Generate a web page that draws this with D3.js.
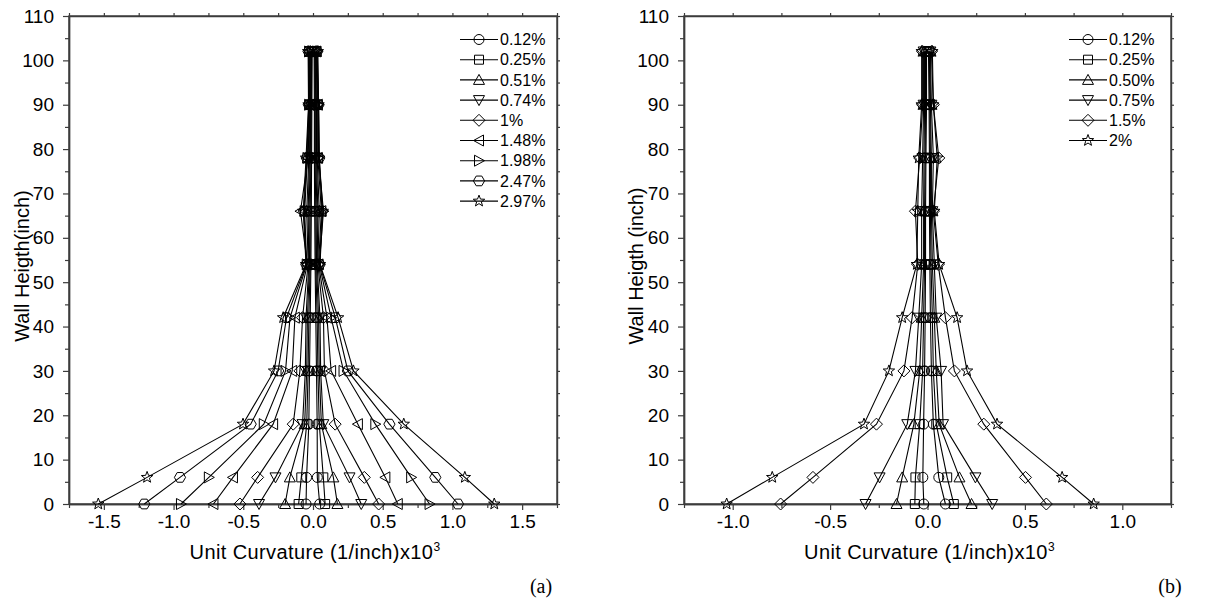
<!DOCTYPE html>
<html>
<head>
<meta charset="utf-8">
<script src="https://cdn.jsdelivr.net/npm/d3@7"></script>
<style>
  body { margin: 0; background: #fff; }
  svg { display: block; }
  text { font-family: "Liberation Sans", Arial, sans-serif; fill: #000; }
</style>
</head>
<body>
<svg id="chart" width="1218" height="604"></svg>
<script>
// wall heights where curvature was measured (inch)
const heights = [0, 6, 18, 30, 42, 54, 66, 78, 90, 102];

// ---- panel (a) ----
const driftsA = ['0.12%', '0.25%', '0.51%', '0.74%', '1%', '1.48%', '1.98%', '2.47%', '2.97%'];
const markersA = ['circle', 'square', 'triUp', 'triDown', 'diamond', 'triLeft', 'triRight', 'hexagon', 'star'];
// negative (left) branch, one row per drift, one value per height
const negA = [
  [-0.05, -0.046, -0.03, -0.025, -0.02, -0.015, -0.012, -0.01, -0.008, -0.006],
  [-0.103, -0.084, -0.045, -0.035, -0.03, -0.02, -0.02, -0.015, -0.012, -0.01],
  [-0.2, -0.166, -0.06, -0.045, -0.04, -0.025, -0.028, -0.02, -0.015, -0.013],
  [-0.387, -0.269, -0.075, -0.055, -0.05, -0.03, -0.035, -0.025, -0.018, -0.016],
  [-0.524, -0.397, -0.142, -0.094, -0.075, -0.035, -0.045, -0.03, -0.022, -0.02],
  [-0.714, -0.574, -0.286, -0.149, -0.13, -0.04, -0.09, -0.035, -0.025, -0.024],
  [-0.947, -0.747, -0.353, -0.197, -0.165, -0.045, -0.06, -0.04, -0.028, -0.028],
  [-1.21, -0.954, -0.447, -0.25, -0.19, -0.048, -0.065, -0.045, -0.03, -0.032],
  [-1.54, -1.19, -0.502, -0.279, -0.214, -0.05, -0.07, -0.05, -0.032, -0.035]
];
// positive (right) branch
const posA = [
  [0.048, 0.031, 0.03, 0.025, 0.02, 0.015, 0.012, 0.01, 0.01, 0.008],
  [0.087, 0.074, 0.045, 0.035, 0.03, 0.02, 0.02, 0.015, 0.015, 0.012],
  [0.175, 0.146, 0.06, 0.045, 0.04, 0.025, 0.028, 0.02, 0.02, 0.015],
  [0.346, 0.262, 0.074, 0.055, 0.05, 0.03, 0.035, 0.025, 0.025, 0.018],
  [0.471, 0.368, 0.159, 0.082, 0.075, 0.035, 0.045, 0.03, 0.03, 0.022],
  [0.608, 0.519, 0.322, 0.13, 0.1, 0.04, 0.06, 0.035, 0.035, 0.025],
  [0.836, 0.704, 0.447, 0.219, 0.13, 0.045, 0.075, 0.04, 0.038, 0.028],
  [1.04, 0.877, 0.548, 0.25, 0.16, 0.048, 0.065, 0.045, 0.04, 0.03],
  [1.30, 1.089, 0.651, 0.29, 0.18, 0.05, 0.07, 0.045, 0.04, 0.035]
];
const xTicksA = [-1.5, -1.0, -0.5, 0.0, 0.5, 1.0, 1.5];

// ---- panel (b) ----
const driftsB = ['0.12%', '0.25%', '0.50%', '0.75%', '1.5%', '2%'];
const markersB = ['circle', 'square', 'triUp', 'triDown', 'diamond', 'star'];
const negB = [
  [-0.019, -0.024, -0.02, -0.015, -0.012, -0.01, -0.01, -0.008, -0.005, -0.005],
  [-0.065, -0.062, -0.04, -0.025, -0.02, -0.015, -0.015, -0.012, -0.01, -0.01],
  [-0.159, -0.13, -0.07, -0.04, -0.03, -0.02, -0.02, -0.018, -0.015, -0.015],
  [-0.318, -0.246, -0.104, -0.062, -0.045, -0.03, -0.03, -0.025, -0.02, -0.02],
  [-0.754, -0.588, -0.262, -0.121, -0.079, -0.05, -0.062, -0.04, -0.025, -0.025],
  [-1.031, -0.797, -0.326, -0.198, -0.13, -0.055, -0.05, -0.045, -0.03, -0.03]
];
const posB = [
  [0.092, 0.058, 0.03, 0.02, 0.015, 0.012, 0.01, 0.01, 0.008, 0.005],
  [0.135, 0.101, 0.045, 0.03, 0.025, 0.018, 0.015, 0.015, 0.012, 0.01],
  [0.226, 0.164, 0.06, 0.045, 0.035, 0.025, 0.02, 0.02, 0.015, 0.012],
  [0.332, 0.246, 0.08, 0.07, 0.045, 0.035, 0.025, 0.03, 0.02, 0.015],
  [0.61, 0.503, 0.289, 0.138, 0.092, 0.055, 0.03, 0.058, 0.03, 0.02],
  [0.853, 0.691, 0.357, 0.203, 0.152, 0.06, 0.035, 0.05, 0.03, 0.025]
];
const xTicksB = [-1.0, -0.5, 0.0, 0.5, 1.0];

const yTicks = [0, 10, 20, 30, 40, 50, 60, 70, 80, 90, 100, 110];

const svg = d3.select('#chart');
const AXIS_COLOR = '#3c3c3c';

function polygon(pts) {
  return 'M' + pts.map(p => p[0].toFixed(2) + ',' + p[1].toFixed(2)).join('L') + 'Z';
}

function markerPath(type) {
  switch (type) {
    case 'circle': return 'M-5,0a5,5 0 1,0 10,0a5,5 0 1,0 -10,0Z';
    case 'square': return 'M-4.5,-4.5H4.5V4.5H-4.5Z';
    case 'triUp': return polygon([[0, -5.5], [5.5, 4.5], [-5.5, 4.5]]);
    case 'triDown': return polygon([[0, 5.5], [5.5, -4.5], [-5.5, -4.5]]);
    case 'triLeft': return polygon([[-5.5, 0], [4.5, -5.5], [4.5, 5.5]]);
    case 'triRight': return polygon([[5.5, 0], [-4.5, -5.5], [-4.5, 5.5]]);
    case 'diamond': return polygon([[0, -6], [6, 0], [0, 6], [-6, 0]]);
    case 'hexagon': return polygon(d3.range(6).map(i => [5.6 * Math.cos(i * Math.PI / 3), 5.6 * Math.sin(i * Math.PI / 3)]));
    case 'star': return polygon(d3.range(10).map(i => {
      const r = i % 2 ? 2.5 : 6;
      const a = -Math.PI / 2 + i * Math.PI / 5;
      return [r * Math.cos(a), r * Math.sin(a)];
    }));
  }
}

function drawPanel(opts) {
  const { left, right, top, bottom, xDomain, xTicks, drifts, markers, neg, pos,
          yTitle, yTitleX, legendX, letter, letterX } = opts;

  const x = d3.scaleLinear().domain(xDomain).range([left, right]);
  const y = d3.scaleLinear().domain([0, 110]).range([bottom, top]);
  const g = svg.append('g');

  const xMinor = d3.range(xDomain[0], xDomain[1] + 0.001, 0.25).filter(v => !xTicks.some(t => Math.abs(t - v) < 1e-6));
  const yMinor = d3.range(5, 110, 10);

  // frame
  g.append('rect')
    .attr('x', left).attr('y', top).attr('width', right - left).attr('height', bottom - top)
    .attr('fill', 'none').attr('stroke', AXIS_COLOR).attr('stroke-width', 1.4);

  // bottom axis
  g.append('g').attr('transform', `translate(0,${bottom})`)
    .call(d3.axisBottom(x).tickValues(xTicks).tickSize(6).tickSizeOuter(0).tickPadding(5)
      .tickFormat(d => d.toFixed(1)));
  g.append('g').attr('transform', `translate(0,${bottom})`)
    .call(d3.axisBottom(x).tickValues(xMinor).tickSize(4).tickSizeOuter(0).tickFormat(''));

  // left axis
  g.append('g').attr('transform', `translate(${left},0)`)
    .call(d3.axisLeft(y).tickValues(yTicks).tickSize(6).tickSizeOuter(0).tickPadding(9));
  g.append('g').attr('transform', `translate(${left},0)`)
    .call(d3.axisLeft(y).tickValues(yMinor).tickSize(4).tickSizeOuter(0).tickFormat(''));

  // top & right small ticks
  g.append('g').attr('transform', `translate(0,${top})`)
    .call(d3.axisTop(x).tickValues(xTicks.concat(xMinor)).tickSize(3).tickSizeOuter(0).tickFormat(''));
  g.append('g').attr('transform', `translate(${right},0)`)
    .call(d3.axisRight(y).tickValues(yTicks.concat(yMinor)).tickSize(3).tickSizeOuter(0).tickFormat(''));

  g.selectAll('.domain').attr('stroke', AXIS_COLOR).attr('stroke-width', 1.4);
  g.selectAll('.tick line').attr('stroke', AXIS_COLOR).attr('stroke-width', 1.2);
  g.selectAll('.tick text').style('font-size', '19px').attr('fill', '#000');

  // axis titles
  const xt = g.append('text')
    .attr('x', (left + right) / 2 + 2).attr('y', 559)
    .attr('text-anchor', 'middle').style('font-size', '20px').style('letter-spacing', '0.4px');
  xt.append('tspan').text('Unit Curvature (1/inch)x10');
  xt.append('tspan').text('3').attr('dy', -8).style('font-size', '12px');

  g.append('text')
    .attr('transform', `translate(${yTitleX},${(top + bottom) / 2 + 6}) rotate(-90)`)
    .attr('text-anchor', 'middle').attr('dy', '0.35em')
    .style('font-size', '20px')
    .text(yTitle);

  // curves
  const line = d3.line().x(d => x(d[0])).y(d => y(d[1]));
  const plot = g.append('g');
  drifts.forEach((name, i) => {
    [neg[i], pos[i]].forEach(branch => {
      const pts = branch.map((v, k) => [v, heights[k]]);
      plot.append('path').attr('d', line(pts))
        .attr('fill', 'none').attr('stroke', '#000').attr('stroke-width', 1.1);
      plot.selectAll(null).data(pts).enter().append('path')
        .attr('d', markerPath(markers[i]))
        .attr('transform', d => `translate(${x(d[0])},${y(d[1])})`)
        .attr('fill', 'none').attr('stroke', '#000').attr('stroke-width', 1);
    });
  });

  // legend
  const lg = g.append('g');
  drifts.forEach((name, i) => {
    const ly = 39.5 + i * 20.2;
    lg.append('line').attr('x1', legendX).attr('x2', legendX + 38).attr('y1', ly).attr('y2', ly)
      .attr('stroke', '#000').attr('stroke-width', 1.1);
    lg.append('path').attr('d', markerPath(markers[i]))
      .attr('transform', `translate(${legendX + 19},${ly})`)
      .attr('fill', 'none').attr('stroke', '#000').attr('stroke-width', 1);
    lg.append('text').attr('x', legendX + 40).attr('y', ly).attr('dy', '0.36em')
      .style('font-size', '16px').text(name);
  });

  // panel letter
  g.append('text').attr('x', letterX).attr('y', 593).attr('text-anchor', 'middle')
    .style('font-family', '"Liberation Serif", "Times New Roman", serif').style('font-size', '20px')
    .text(letter);
}

drawPanel({
  left: 69, right: 557, top: 16, bottom: 504,
  xDomain: [-1.75, 1.75], xTicks: xTicksA,
  drifts: driftsA, markers: markersA, neg: negA, pos: posA,
  yTitle: 'Wall Heigth(inch)', yTitleX: 22, legendX: 460,
  letter: '(a)', letterX: 541
});

drawPanel({
  left: 684, right: 1171, top: 16, bottom: 504,
  xDomain: [-1.25, 1.25], xTicks: xTicksB,
  drifts: driftsB, markers: markersB, neg: negB, pos: posB,
  yTitle: 'Wall Heigth (inch)', yTitleX: 636, legendX: 1069,
  letter: '(b)', letterX: 1170
});
</script>
</body>
</html>
